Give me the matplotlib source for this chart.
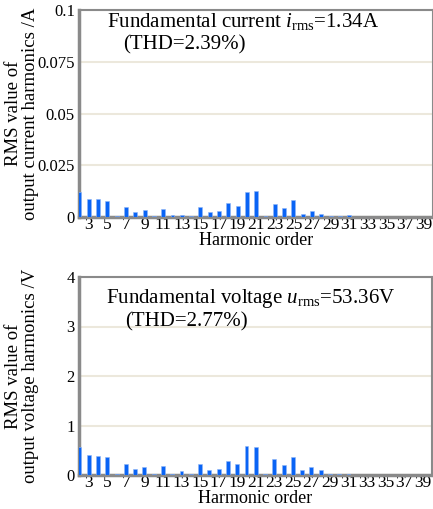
import matplotlib
matplotlib.use("Agg")
import matplotlib.pyplot as plt
import numpy as np

plt.rcParams['font.family'] = ['Liberation Serif', 'DejaVu Serif']
plt.rcParams['mathtext.fontset'] = 'custom'
plt.rcParams['mathtext.rm'] = 'Liberation Serif'
plt.rcParams['mathtext.it'] = 'Liberation Serif:italic'

# harmonic orders 2..40
orders = list(range(2, 41))
current_h = [0.0120, 0.0088, 0.0088, 0.0078, 0.0007, 0.0050, 0.0025, 0.0034, 0.0007,
             0.0040, 0.0010, 0.0012, 0.0005, 0.0049, 0.0025, 0.0030, 0.0070, 0.0055,
             0.0120, 0.0124, 0.0007, 0.0064, 0.0043, 0.0080, 0.0015, 0.0030, 0.0016,
             0.0003, 0.0004, 0.0008, 0.0002, 0.0002, 0.0002, 0.0002, 0.0002, 0.0002,
             0.0002, 0.0002, 0.0002]
voltage_h = [0.57, 0.40, 0.38, 0.37, 0.02, 0.22, 0.12, 0.17, 0.03,
             0.19, 0.03, 0.08, 0.02, 0.22, 0.10, 0.13, 0.29, 0.23,
             0.58, 0.56, 0.02, 0.32, 0.21, 0.37, 0.10, 0.16, 0.10,
             0.02, 0.02, 0.03, 0.01, 0.01, 0.01, 0.01, 0.01, 0.01,
             0.01, 0.01, 0.01]
xtick_labels = [str(k) for k in range(3, 40, 2)]
cur_yticks = [0, 0.025, 0.05, 0.075, 0.1]
cur_ylabels = ['0', '0.025', '0.05', '0.075', '0.1']
volt_yticks = [0, 1, 2, 3, 4]

W, H = 433, 509
SERIF = 'Liberation Serif'
fig = plt.figure(figsize=(W / 100, H / 100), dpi=100)

def panel(rect, vals, yticks, ylabels, ylim, ylabel, line1, line2, pos1, pos2):
    l, t, r, b = rect
    ax = fig.add_axes([l / W, 1 - b / H, (r - l) / W, (b - t) / H])
    ax.bar(orders, vals, width=0.42, color='#0a64f5', edgecolor='#8fb6f7', linewidth=0.4, zorder=3)
    ax.set_xlim(1.95, 40.0)
    ax.set_ylim(*ylim)
    ax.set_yticks(yticks)
    ax.set_yticklabels(ylabels, fontsize=12, family=SERIF)
    ax.set_xticks(range(3, 40, 2))
    ax.set_xticklabels(xtick_labels, fontsize=12.5, family=SERIF)
    ax.tick_params(length=0, pad=3)
    ax.tick_params(axis='x', pad=0)
    ax.grid(axis='y', color='#ece8dc', linewidth=1.5, zorder=0)
    for s in ['left', 'bottom']:
        ax.spines[s].set_color('#8a8a8a')
        ax.spines[s].set_linewidth(2.5)
    for s in ['top', 'right']:
        ax.spines[s].set_color('#8a8a8a')
        ax.spines[s].set_linewidth(1.5)
    ax.set_xlabel('Harmonic order', fontsize=13, labelpad=-1, family=SERIF)
    ax.set_ylabel(ylabel, fontsize=13.5, linespacing=1.0, family=SERIF)
    ax.yaxis.set_label_coords(-0.114, 0.5)
    ax.text(pos1[0], pos1[1], line1, transform=fig.transFigure, fontsize=15, va='center')
    ax.text(pos2[0], pos2[1], line2, transform=fig.transFigure, fontsize=15, va='center')
    return ax

panel((79, 10, 433, 217), current_h, cur_yticks, cur_ylabels, (0, 0.1),
      'RMS value of\noutput current harmonics /A',
      r'Fundamental current $i_{\rm rms}$=1.34A', '(THD=2.39%)',
      (107 / W, 1 - 21 / H), (123 / W, 1 - 45 / H))
panel((79, 277, 432, 475), voltage_h, volt_yticks, [str(v) for v in volt_yticks], (0, 4),
      'RMS value of\noutput voltage harmonics /V',
      r'Fundamental voltage $u_{\rm rms}$=53.36V', '(THD=2.77%)',
      (106 / W, 1 - 298 / H), (125 / W, 1 - 322 / H))

fig.savefig('out.png', dpi=100)
